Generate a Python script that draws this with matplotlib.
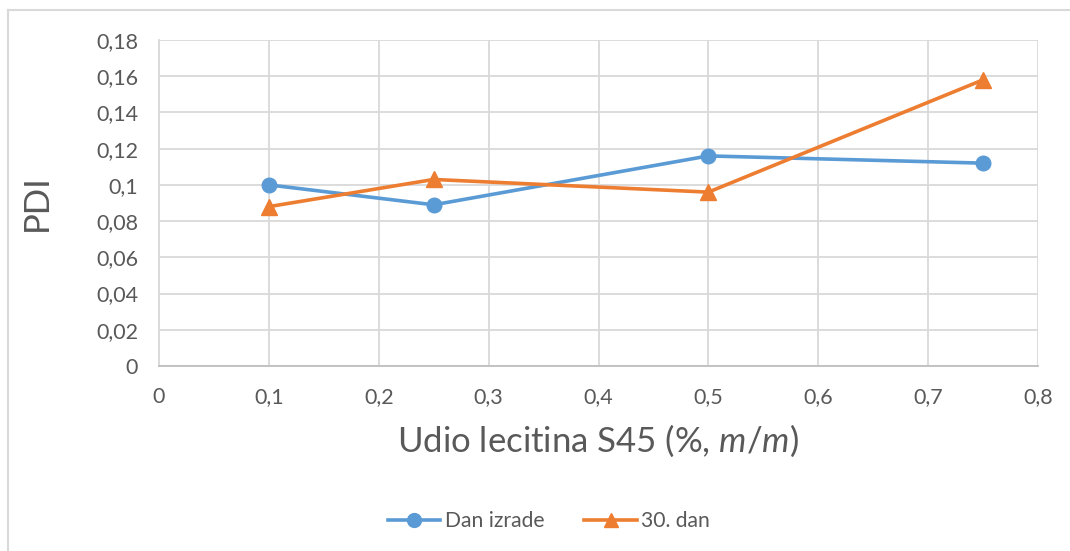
import matplotlib
matplotlib.use("Agg")
import matplotlib.pyplot as plt
from matplotlib.lines import Line2D

plt.rcParams['font.family'] = ['Lato', 'DejaVu Sans']
plt.rcParams['mathtext.fontset'] = 'custom'
plt.rcParams['mathtext.rm'] = 'Lato'
plt.rcParams['mathtext.it'] = 'Lato:italic'
plt.rcParams['mathtext.bf'] = 'Lato:bold'

x_values = [0.1, 0.25, 0.5, 0.75]
dan_izrade = [0.100, 0.089, 0.116, 0.112]
dan_30 = [0.088, 0.103, 0.096, 0.158]
series_names = ["Dan izrade", "30. dan"]
x_ticks = [0, 0.1, 0.2, 0.3, 0.4, 0.5, 0.6, 0.7, 0.8]
x_ticklabels = ["0", "0,1", "0,2", "0,3", "0,4", "0,5", "0,6", "0,7", "0,8"]
y_ticks = [0, 0.02, 0.04, 0.06, 0.08, 0.10, 0.12, 0.14, 0.16, 0.18]
y_ticklabels = ["0", "0,02", "0,04", "0,06", "0,08", "0,1", "0,12", "0,14", "0,16", "0,18"]

W, H = 1070, 551
fig = plt.figure(figsize=(W / 100, H / 100), dpi=100)
ax = fig.add_axes([159 / W, 1 - 366 / H, (1038 - 159) / W, (366 - 40) / H])

text_color = '#595959'
grid_color = '#d9d9d9'

ax.plot(x_values, dan_izrade, color='#5B9BD5', lw=2.6, marker='o', ms=10.5,
        label=series_names[0], zorder=3)
ax.plot(x_values, dan_30, color='#ED7D31', lw=2.6, marker='^', ms=11,
        label=series_names[1], zorder=3)

ax.set_xlim(0, 0.8)
ax.set_ylim(0, 0.18)
ax.set_xticks(x_ticks)
ax.set_xticklabels(x_ticklabels)
ax.set_yticks(y_ticks)
ax.set_yticklabels(y_ticklabels)
ax.grid(True, color=grid_color, lw=1.3)
ax.set_axisbelow(True)
for s in ['top', 'right']:
    ax.spines[s].set_visible(False)
ax.spines['left'].set_color(grid_color)
ax.spines['left'].set_linewidth(1.3)
ax.spines['bottom'].set_color('#bfbfbf')
ax.spines['bottom'].set_linewidth(1.3)
ax.tick_params(axis='both', length=0, labelsize=15.5, labelcolor=text_color)
ax.tick_params(axis='y', pad=15)
ax.tick_params(axis='x', pad=15)

fig.text(598 / W, 1 - 441 / H, 'Udio lecitina S45 (%, $m$/$m$)', fontsize=25,
         color=text_color, ha='center', va='center')
fig.text(37 / W, 1 - 203 / H, 'PDI', fontsize=25, color=text_color,
         ha='center', va='center', rotation=90)

leg = fig.legend(loc='center', bbox_to_anchor=(549 / W, 1 - 521 / H), ncol=2,
                 frameon=False, fontsize=15.2, labelcolor=text_color,
                 handlelength=2.5, columnspacing=1.9, handletextpad=0.2,
                 markerscale=0.95)

# chart border (cropped at right and bottom)
fig.add_artist(Line2D([8 / W, 1.0], [1 - 10 / H, 1 - 10 / H], color=grid_color, lw=1.5,
                      transform=fig.transFigure))
fig.add_artist(Line2D([8 / W, 8 / W], [1 - 10 / H, 0], color=grid_color, lw=1.5,
                      transform=fig.transFigure))

fig.savefig('out.png', dpi=100)
